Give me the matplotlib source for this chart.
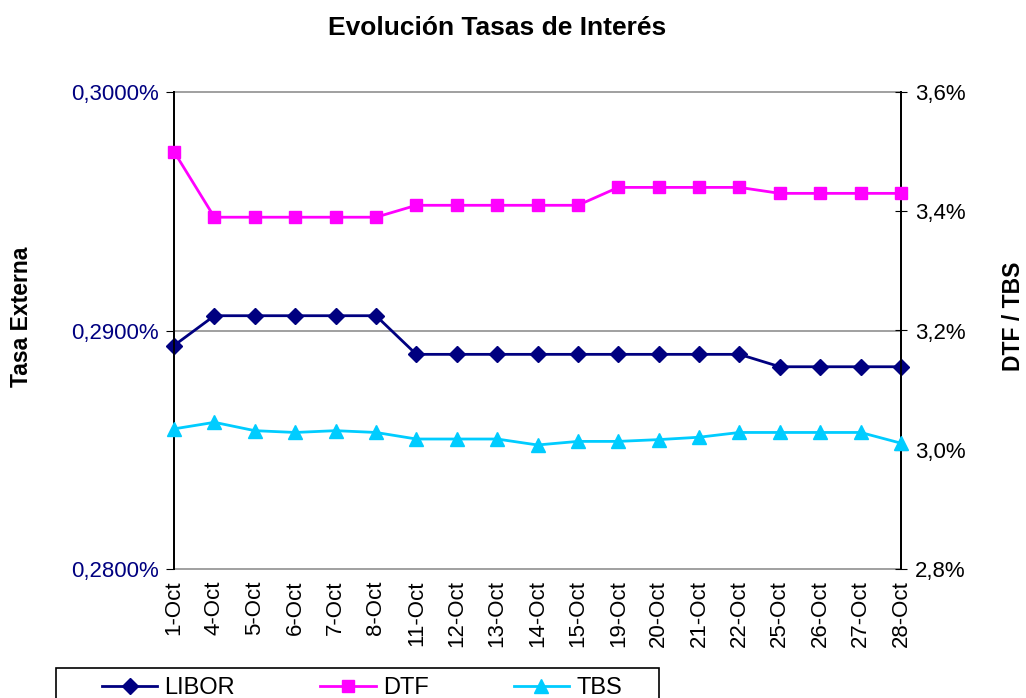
import numpy as np
import matplotlib
matplotlib.use('Agg')
import matplotlib.pyplot as plt
from matplotlib.patches import Rectangle

plt.rcParams['font.family'] = ['Liberation Sans', 'DejaVu Sans']

# datos
fechas = ['1-Oct', '4-Oct', '5-Oct', '6-Oct', '7-Oct', '8-Oct', '11-Oct', '12-Oct',
          '13-Oct', '14-Oct', '15-Oct', '19-Oct', '20-Oct', '21-Oct', '22-Oct',
          '25-Oct', '26-Oct', '27-Oct', '28-Oct']
libor = [0.28937, 0.29062, 0.29062, 0.29062, 0.29062, 0.29062, 0.28900, 0.28900,
         0.28900, 0.28900, 0.28900, 0.28900, 0.28900, 0.28900, 0.28900,
         0.28848, 0.28848, 0.28848, 0.28848]
dtf = [3.50, 3.39, 3.39, 3.39, 3.39, 3.39, 3.41, 3.41, 3.41, 3.41, 3.41,
       3.44, 3.44, 3.44, 3.44, 3.43, 3.43, 3.43, 3.43]
tbs = [3.035, 3.046, 3.032, 3.029, 3.032, 3.029, 3.018, 3.018, 3.018, 3.008,
       3.014, 3.014, 3.017, 3.021, 3.029, 3.029, 3.029, 3.029, 3.011]
ticks_izq = [0.28, 0.29, 0.30]
etiq_izq = ['0,2800%', '0,2900%', '0,3000%']
ticks_der = [2.8, 3.0, 3.2, 3.4, 3.6]
etiq_der = ['2,8%', '3,0%', '3,2%', '3,4%', '3,6%']

x = np.arange(len(fechas))
W, H = 1026, 698

fig = plt.figure(figsize=(W/100, H/100), dpi=100)
ax = fig.add_axes([174/W, 1-569/H, (901-174)/W, (569-92)/H])
ax2 = ax.twinx()

# lineas de cuadricula (incluye bordes superior e inferior)
for t in ticks_izq:
    ax.axhline(t, color='#909090', lw=1.2, zorder=0, clip_on=False)

l1, = ax.plot(x, libor, color='#000080', marker='D', markersize=8, lw=2,
              clip_on=False, zorder=3, label='LIBOR')
l2, = ax2.plot(x, dtf, color='#FF00FF', marker='s', markersize=9, lw=2,
               clip_on=False, zorder=3, label='DTF')
l3, = ax2.plot(x, tbs, color='#00CCFF', marker='^', markersize=10, lw=2,
               clip_on=False, zorder=3, label='TBS')

ax.set_xlim(0, 18)
ax.set_ylim(0.28, 0.30)
ax.set_yticks(ticks_izq)
ax.set_yticklabels(etiq_izq, color='#000080', fontsize=16)

ax2.set_ylim(2.8, 3.6)
ax2.set_yticks(ticks_der)
ax2.set_yticklabels(etiq_der, fontsize=16)

ax.set_xticks(x)
ax.set_xticklabels(fechas, rotation=90, fontsize=16)
ax.tick_params(axis='x', length=0, pad=8)
ax.tick_params(axis='y', length=6, pad=5)
ax2.tick_params(axis='y', length=8, pad=6, direction='inout')

for a in (ax, ax2):
    a.spines['top'].set_visible(False)
    a.spines['bottom'].set_visible(False)
    a.spines['left'].set_color('black')
    a.spines['right'].set_color('black')
    a.spines['left'].set_linewidth(1.3)
    a.spines['right'].set_linewidth(1.3)

fig.text(22/W, 1-317/H, 'Tasa Externa', fontsize=16.5, fontweight='bold',
         rotation=90, ha='center', va='center')
fig.text(1014/W, 1-316/H, 'DTF / TBS', fontsize=16.5, fontweight='bold',
         rotation=90, ha='center', va='center')
fig.text(497/W, 1-28/H, 'Evolución Tasas de Interés', fontsize=19,
         fontweight='bold', ha='center', va='center')

# leyenda con marco dibujado aparte (queda cortada abajo como el original)
fig.add_artist(Rectangle((56/W, -0.05), 603/W, 0.05 + 1-668/H, transform=fig.transFigure,
                         fill=False, edgecolor='black', lw=1.2))
fig.legend(handles=[l1, l2, l3], loc='center left', ncol=3,
           bbox_to_anchor=(102/W, 1-688/H), fontsize=17, frameon=False,
           handlelength=2.35, columnspacing=3.6, borderpad=0, borderaxespad=0,
           handletextpad=0.3)

plt.savefig('out.png', dpi=100)
